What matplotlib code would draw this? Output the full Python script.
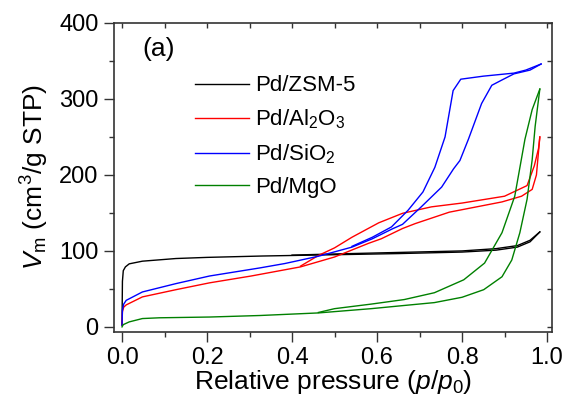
import matplotlib
matplotlib.use('Agg')
import matplotlib.pyplot as plt
from matplotlib.ticker import MultipleLocator

plt.rcParams['font.family'] = ['Liberation Sans', 'DejaVu Sans']
plt.rcParams['mathtext.fontset'] = 'custom'
plt.rcParams['mathtext.rm'] = 'Liberation Sans'
plt.rcParams['mathtext.it'] = 'Liberation Sans:italic'

# N2 isotherms, adsorption and desorption branches
zsm_ads_p = [0.0, 0.001, 0.003, 0.008, 0.017, 0.048, 0.127, 0.2, 0.33, 0.5, 0.65, 0.8, 0.88, 0.93, 0.96, 0.983]
zsm_ads_v = [3, 60, 74, 79, 83, 86.5, 90, 91.5, 93.3, 95, 96.5, 98.5, 101, 105, 112, 125]
zsm_des_p = [0.983, 0.96, 0.93, 0.88, 0.8, 0.65, 0.5, 0.4]
zsm_des_v = [125, 114, 107, 103, 100, 98, 96, 94.5]

al_ads_p = [0.0, 0.001, 0.004, 0.01, 0.048, 0.127, 0.206, 0.304, 0.42, 0.5, 0.58, 0.61,
            0.66, 0.69, 0.77, 0.894, 0.94, 0.965, 0.975, 0.983]
al_ads_v = [2, 20, 26, 29, 39.5, 49, 58, 67, 79, 92, 110, 116, 129.5, 136, 151, 164.5,
            172, 181, 200, 250]
al_des_p = [0.983, 0.98, 0.97, 0.953, 0.90, 0.80, 0.728, 0.66, 0.604, 0.541, 0.5, 0.462, 0.42]
al_des_v = [250, 235, 212, 186, 172, 163, 158, 149.5, 137, 118, 104, 94, 80]

si_ads_p = [0.0, 0.001, 0.004, 0.01, 0.048, 0.127, 0.206, 0.324, 0.383, 0.462, 0.541, 0.589,
            0.636, 0.66, 0.704, 0.752, 0.78, 0.795, 0.815, 0.846, 0.87, 0.894, 0.922, 0.96, 0.986]
si_ads_v = [2, 22, 30, 35, 46, 57, 67, 77.6, 83.4, 93, 105, 116, 129, 135, 158, 184, 208,
            219, 247, 294, 318, 325, 333, 338, 346]
si_des_p = [0.986, 0.95, 0.922, 0.85, 0.797, 0.779, 0.760, 0.736, 0.708, 0.673, 0.634, 0.589, 0.541]
si_des_v = [346, 338, 334, 330, 326, 311, 250, 210, 177.6, 153.5, 131.6, 118, 106]

mg_ads_p = [0.0, 0.003, 0.017, 0.048, 0.088, 0.206, 0.324, 0.462, 0.586, 0.66, 0.735, 0.80,
            0.851, 0.894, 0.917, 0.936, 0.953, 0.965, 0.972, 0.983]
mg_ads_v = [0, 3, 6.6, 11, 12, 13, 15, 18.4, 24, 28, 32, 39, 49, 66, 88, 124, 168, 220, 264, 313]
mg_des_p = [0.983, 0.965, 0.948, 0.924, 0.894, 0.853, 0.804, 0.735, 0.664, 0.586, 0.5, 0.462]
mg_des_v = [313, 286, 247, 172, 124, 84, 62, 45, 36, 30, 24, 19]

labels = ['Pd/ZSM-5', 'Pd/Al$_2$O$_3$', 'Pd/SiO$_2$', 'Pd/MgO']
colors = ['black', '#ff0000', '#0000ff', '#008000']

fig = plt.figure(figsize=(5.64, 3.96), dpi=100)
ax = fig.add_axes([0.202, 0.162, 0.777, 0.78])

series = [(zsm_ads_p, zsm_ads_v, zsm_des_p, zsm_des_v),
          (al_ads_p, al_ads_v, al_des_p, al_des_v),
          (si_ads_p, si_ads_v, si_des_p, si_des_v),
          (mg_ads_p, mg_ads_v, mg_des_p, mg_des_v)]
for (ap, av, dp, dv), lab, col in zip(series, labels, colors):
    ax.plot(ap, av, color=col, lw=1.0, label=lab)
    ax.plot(dp, dv, color=col, lw=1.0)

ax.set_xlim(-0.019, 1.012)
ax.set_ylim(-6.5, 400)
ax.xaxis.set_major_locator(MultipleLocator(0.2))
ax.xaxis.set_minor_locator(MultipleLocator(0.1))
ax.yaxis.set_major_locator(MultipleLocator(100))
ax.yaxis.set_minor_locator(MultipleLocator(50))
ax.set_xticks([0.0, 0.2, 0.4, 0.6, 0.8, 1.0])
ax.set_xticklabels(['0.0', '0.2', '0.4', '0.6', '0.8', '1.0'])

for s in ax.spines.values():
    s.set_color('#333333')
    s.set_linewidth(1.2)
ax.tick_params(which='both', direction='out', top=False, right=False,
               labelsize=17, color='#333333', width=1.0, pad=4)
ax.tick_params(which='major', length=7)
ax.tick_params(which='minor', length=3.5)

# mirrored inward ticks on top and right
sec_x = ax.secondary_xaxis('top')
sec_x.xaxis.set_major_locator(MultipleLocator(0.2))
sec_x.xaxis.set_minor_locator(MultipleLocator(0.1))
sec_x.tick_params(which='both', direction='in', length=3.5, labeltop=False,
                  color='#333333', width=1.0)
sec_x.spines['top'].set_visible(False)
sec_y = ax.secondary_yaxis('right')
sec_y.yaxis.set_major_locator(MultipleLocator(100))
sec_y.yaxis.set_minor_locator(MultipleLocator(50))
sec_y.tick_params(which='both', direction='in', length=3.5, labelright=False,
                  color='#333333', width=1.0)
sec_y.spines['right'].set_visible(False)

ax.set_xlabel('Relative pressure ($p$/$p_0$)', fontsize=19, labelpad=-1)
ax.set_ylabel('$V_{\\rm m}$ (cm$^3$/g STP)', fontsize=19, labelpad=6)

ax.text(0.066, 0.915, '(a)', transform=ax.transAxes, fontsize=19,
        ha='left', va='center')

ax.legend(loc='upper left', bbox_to_anchor=(0.186, 0.83), frameon=False,
          fontsize=16, handlelength=2.4, handletextpad=0.3, labelspacing=0.5,
          borderpad=0, borderaxespad=0)

fig.savefig('out.png', dpi=100)
